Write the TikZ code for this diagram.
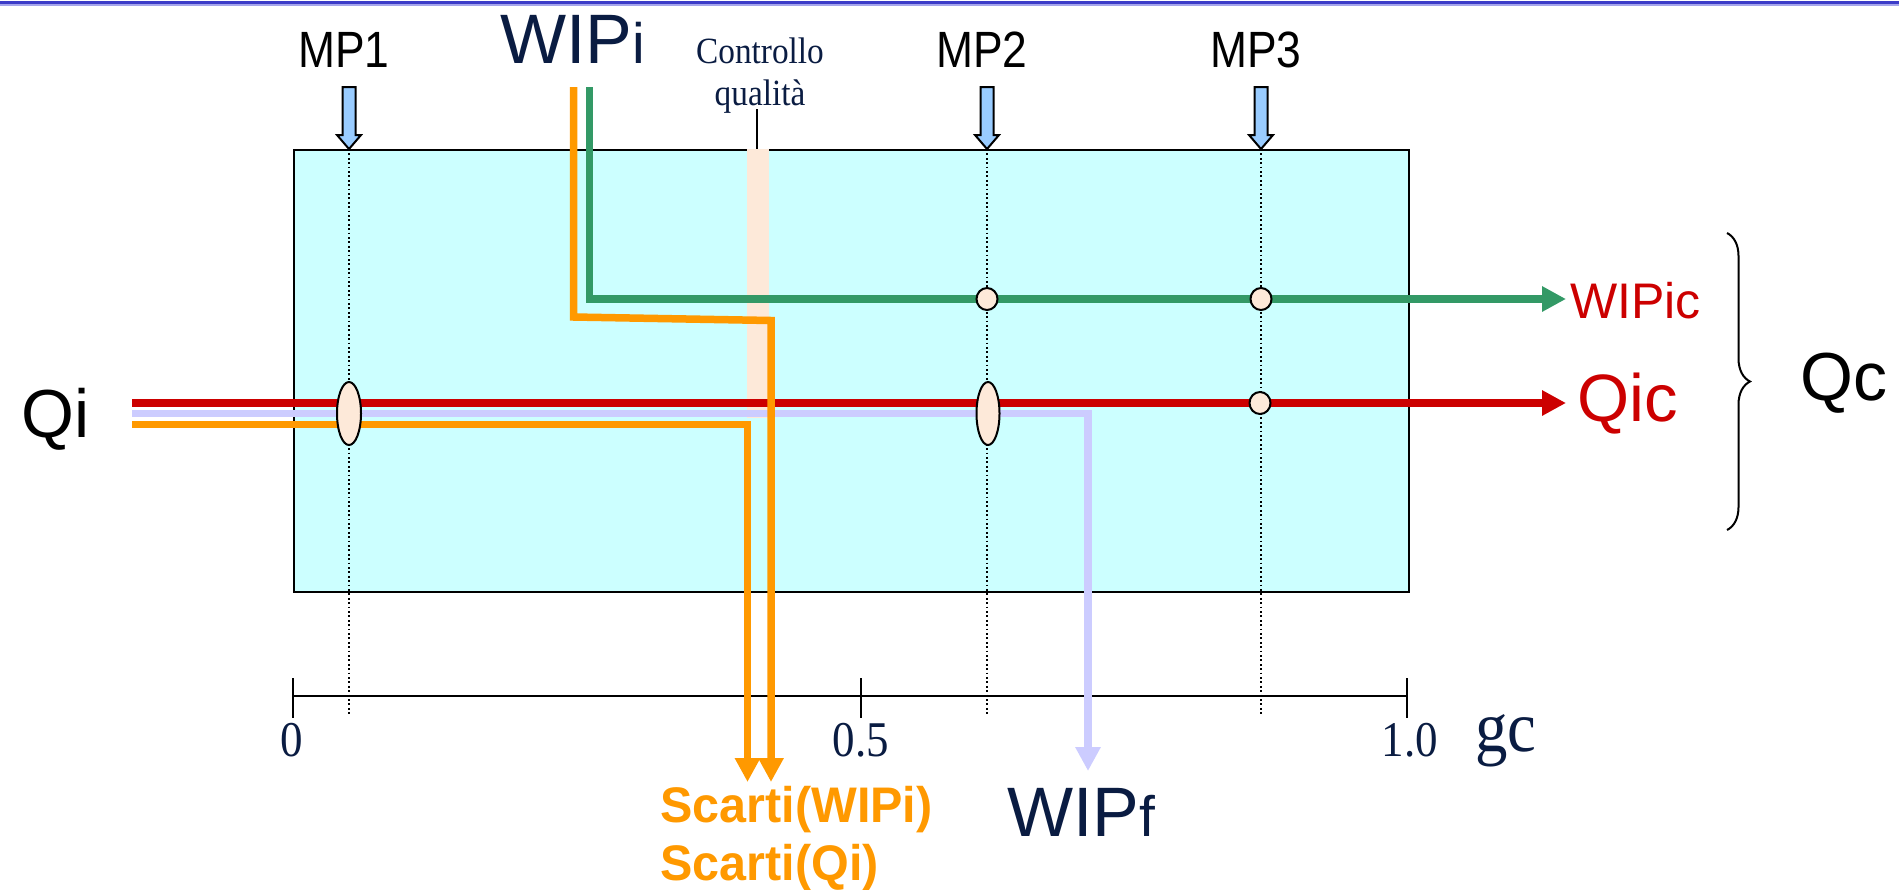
\documentclass[tikz,border=0pt]{standalone}
\usepackage{fontspec}
\setmainfont{Liberation Serif}
\newfontfamily\arial{Liberation Sans}
\newfontfamily\arialnarrow[FakeStretch=0.87]{Liberation Sans}
\newfontfamily\arialbold[FakeStretch=0.97]{Liberation Sans Bold}
\newfontfamily\serifnarrow[FakeStretch=0.9]{Liberation Serif}
\usetikzlibrary{arrows.meta,decorations.pathreplacing,shapes.geometric}
\definecolor{navy}{RGB}{10,28,66}
\definecolor{boxcyan}{RGB}{204,255,255}
\definecolor{peach}{RGB}{253,233,217}
\definecolor{flowred}{RGB}{204,0,0}
\definecolor{flowgreen}{RGB}{51,153,102}
\definecolor{floworange}{RGB}{255,153,0}
\definecolor{flowlav}{RGB}{204,204,255}
\definecolor{mpblue}{RGB}{153,204,255}
\definecolor{rulebluedark}{RGB}{60,60,200}
\definecolor{rulebluelight}{RGB}{165,165,235}
\newcommand{\setsize}[1]{\fontsize{#1pt}{#1pt}\selectfont}
\begin{document}
\begin{tikzpicture}[x=0.5pt,y=-0.5pt,
  flow/.style={line width=3.75pt},
  flowtip/.style={-{Triangle[length=12pt,width=12pt]}},
  txt/.style={inner sep=0pt,anchor=base west},
  ctxt/.style={inner sep=0pt,anchor=base},
  marker/.style={draw=black,line width=1pt,fill=peach,ellipse,inner sep=0pt},
  dotline/.style={line width=0.9pt,dash pattern=on 0.9pt off 1.3pt},
  mparrow/.style={draw=black,line width=1pt,fill=mpblue}]
\useasboundingbox (0,0) rectangle (1899,889);

% header rule
\draw[rulebluedark,line width=1.3pt] (0,2.5) -- (1899,2.5);
\draw[rulebluelight,line width=0.8pt] (0,5) -- (1899,5);

% process box and quality-control band
\node[draw=black,line width=1pt,fill=boxcyan,inner sep=0pt,
      minimum width=557.5pt,minimum height=221pt,anchor=north west] (box) at (293,149) {};
\fill[peach] (747,149) rectangle (769,418);

% measuring-point verticals
\foreach \px/\nm in {349/a,987/b,1261/c}{
  \coordinate (dtop\nm) at (\px,149);
  \coordinate (dbot\nm) at (\px,716);
  \draw[dotline] (dtop\nm) -- (dbot\nm);
}

% axis
\coordinate (ax0) at (293,696);
\coordinate (ax5) at (861,696);
\coordinate (ax1) at (1407,696);
\draw[line width=1.25pt] (ax0) -- (ax1);
\foreach \c in {ax0,ax5,ax1}{
  \draw[line width=1pt] ([yshift=9pt]\c) -- ([yshift=-11pt]\c);
}
\node[ctxt,text=navy,font=\serifnarrow\setsize{25}] (l0) at (292,756) {0};
\node[ctxt,text=navy,font=\serifnarrow\setsize{25}] (l5) at (861,756) {0.5};
\node[ctxt,text=navy,font=\serifnarrow\setsize{25}] (l1) at (1410,756) {1.0};
\node[txt,text=navy,font=\serifnarrow\setsize{36}] (gc) at (1475,751) {gc};

% flow end points
\coordinate (qiA) at (132,403);
\coordinate (qiB) at (1566,403);
\coordinate (lavA) at (132,413.5);
\coordinate (lavC) at (1088,413.5);
\coordinate (lavB) at (1088,771);
\coordinate (orA) at (132,424.5);
\coordinate (orC) at (747.5,424.5);
\coordinate (orB) at (747.5,782);
\coordinate (grA) at (589.5,87);
\coordinate (grC) at (589.5,299);
\coordinate (grB) at (1566,299);
\coordinate (owA) at (573.5,87);
\coordinate (owC) at (573.5,317);
\coordinate (owD) at (771,320.5);
\coordinate (owB) at (771,782);

% flows
\draw[flow,flowlav,flowtip] (lavA) -- (lavC) -- (lavB);
\draw[flow,flowred,flowtip] (qiA) -- (qiB);
\draw[flow,floworange,flowtip] (orA) -- (orC) -- (orB);
\draw[flow,flowgreen,flowtip] (grA) -- (grC) -- (grB);
\draw[flow,floworange,flowtip] (owA) -- (owC) -- (owD) -- (owB);

% markers at measuring points
\node[marker,minimum width=12pt,minimum height=31.5pt] (e1) at (349,413.5) {};
\node[marker,minimum width=11.5pt,minimum height=31.5pt] (e2) at (988,413.5) {};
\node[marker,minimum width=10.5pt,minimum height=11pt] (c1) at (987,299) {};
\node[marker,minimum width=10.5pt,minimum height=11pt] (c2) at (1261,299) {};
\node[marker,minimum width=10.5pt,minimum height=11pt] (c3) at (1260,403) {};

% measuring-point arrows and labels
\foreach \px/\lab in {349/MP1,987/MP2,1261/MP3}{
  \draw[mparrow] (\px-6.5,87) -- (\px+6.5,87) -- (\px+6.5,135) -- (\px+12,135)
     -- (\px,149) -- (\px-12,135) -- (\px-6.5,135) -- cycle;
  \node[ctxt,font=\arialnarrow\setsize{25.5}] (lab\lab) at (\px-5,67) {\lab};
}

% quality control label
\node[ctxt,text=navy,font=\serifnarrow\setsize{18.5}] (ctrl1) at (760,63) {Controllo};
\node[ctxt,text=navy,font=\serifnarrow\setsize{18.5}] (ctrl2) at (760,105) {qualità};
\coordinate (ctrlT) at (757,109);
\coordinate (ctrlB) at (757,149);
\draw[line width=1pt] (ctrlT) -- (ctrlB);

% flow labels
\node[txt,text=navy,font=\arial\setsize{35}] (wipi) at (500,63) {WIP{\setsize{28.5}i}};
\node[txt,font=\arial\setsize{34}] (qi) at (21,437) {Qi};
\node[txt,text=flowred,font=\arial\setsize{25}] (wipic) at (1570,318) {WIPic};
\node[txt,text=flowred,font=\arial\setsize{33.5}] (qic) at (1577,421) {Qic};
\node[txt,font=\arial\setsize{34}] (qc) at (1800,400) {Qc};
\node[txt,text=navy,font=\arial\setsize{35}] (wipf) at (1007,836) {WIP{\setsize{28.5}f}};
\node[txt,text=floworange,font=\arialbold\setsize{25}] (sc1) at (660,822) {Scarti(WIPi)};
\node[txt,text=floworange,font=\arialbold\setsize{25}] (sc2) at (660,880) {Scarti(Qi)};

% brace grouping the outputs
\coordinate (brT) at (1727,233);
\coordinate (brB) at (1727,530);
\draw[line width=1pt,decorate,decoration={brace,amplitude=11.5pt}] (brT) -- (brB);
\end{tikzpicture}
\end{document}
